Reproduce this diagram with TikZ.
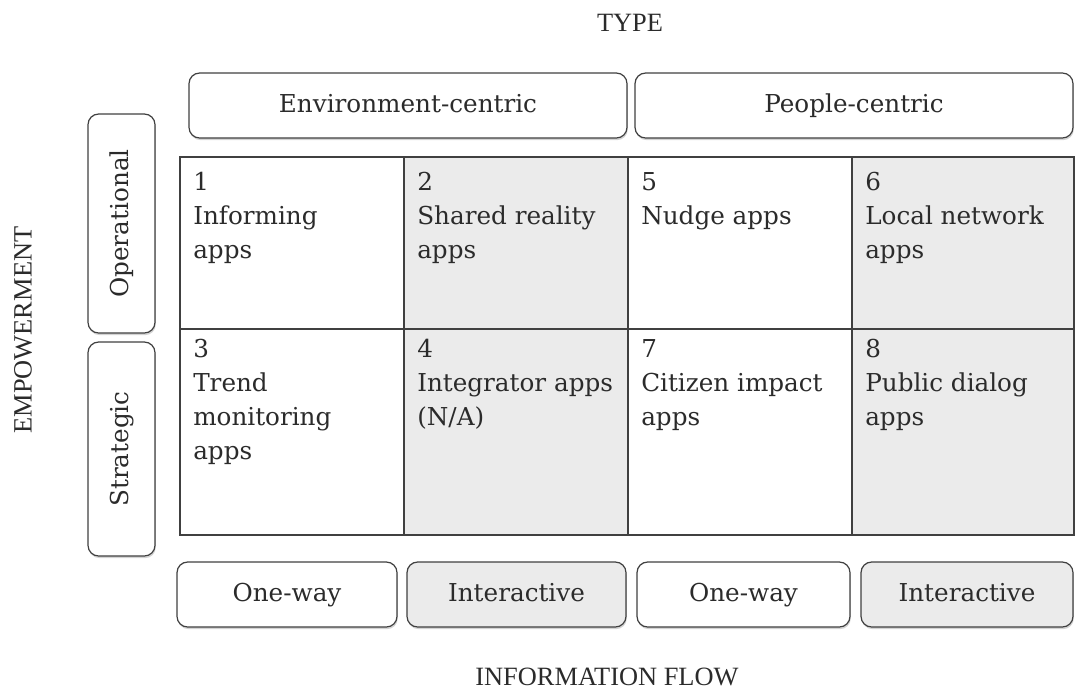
\documentclass[tikz,border=0pt]{standalone}
\usepackage{fontspec}
\setmainfont{DejaVu Serif}
\newfontfamily\headfont{Liberation Serif}
\usetikzlibrary{fit}
\usetikzlibrary{shadows}

\definecolor{linegray}{HTML}{404040}
\definecolor{cellgray}{HTML}{EBEBEB}
\definecolor{textgray}{HTML}{2B2B2B}

\tikzset{
  tab/.style={draw=linegray, line width=0.9pt, rounded corners=8pt, inner sep=0pt,
    drop shadow={shadow xshift=0.6pt, shadow yshift=-1.6pt, opacity=0.35}},
  tabtext/.style={text=textgray, inner sep=0pt, text height=1em, text depth=0pt,
    font=\fontsize{18.5}{25.5}\selectfont},
  cell/.style={draw=linegray, line width=0.9pt, inner sep=0pt},
  celltext/.style={anchor=north west, align=left, inner sep=0pt, text=textgray,
    font=\fontsize{18.5}{25.5}\selectfont},
  axislabel/.style={text=textgray, inner sep=0pt, font=\headfont\fontsize{19.8}{24}\selectfont}
}

\begin{document}
\begin{tikzpicture}[x=0.75pt, y=-0.75pt]
\useasboundingbox (0,0) rectangle (1075,690);

% axis titles
\node[axislabel] (type) at (630,23) {TYPE};
\node[axislabel, rotate=90] (empower) at (23,330) {EMPOWERMENT};
\node[axislabel] (flow) at (607,677) {INFORMATION FLOW};

% type tabs
\node[tab, fill=white, fit={(189,73) (627,138)}] (env) {};
\node[tabtext] at (env.center) {Environment-centric};
\node[tab, fill=white, fit={(635,73) (1073,138)}] (people) {};
\node[tabtext] at (people.center) {People-centric};

% empowerment tabs
\node[tab, fill=white, fit={(88,114) (155,333)}] (oper) {};
\node[tabtext, rotate=90] at (oper.center) {Operational};
\node[tab, fill=white, fit={(88,342) (155,556)}] (strat) {};
\node[tabtext, rotate=90] at (strat.center) {Strategic};

% the eight cells
\foreach \n/\xa/\xb/\ya/\yb/\dy/\shade/\txt in {
  1/180/404/157/329/15/white/{1\\Informing\\apps},
  2/404/628/157/329/15/cellgray/{2\\Shared reality\\apps},
  5/628/852/157/329/15/white/{5\\Nudge apps},
  6/852/1074/157/329/15/cellgray/{6\\Local network\\apps},
  3/180/404/329/535/10/white/{3\\Trend\\monitoring\\apps},
  4/404/628/329/535/10/cellgray/{4\\Integrator apps\\(N/A)},
  7/628/852/329/535/10/white/{7\\Citizen impact\\apps},
  8/852/1074/329/535/10/cellgray/{8\\Public dialog\\apps}} {
  \node[cell, fill=\shade, fit={(\xa,\ya) (\xb,\yb)}] (c\n) {};
  \node[celltext] (t\n) at (\xa+13,\ya+\dy) {\txt};
}

% information flow tabs
\foreach \n/\xa/\xb/\shade/\txt in {
  1/177/397/white/One-way,
  2/407/626/cellgray/Interactive,
  3/637/850/white/One-way,
  4/861/1073/cellgray/Interactive} {
  \node[tab, fill=\shade, fit={(\xa,562) (\xb,627)}] (f\n) {};
  \node[tabtext] at (f\n.center) {\txt};
}
\end{tikzpicture}
\end{document}
